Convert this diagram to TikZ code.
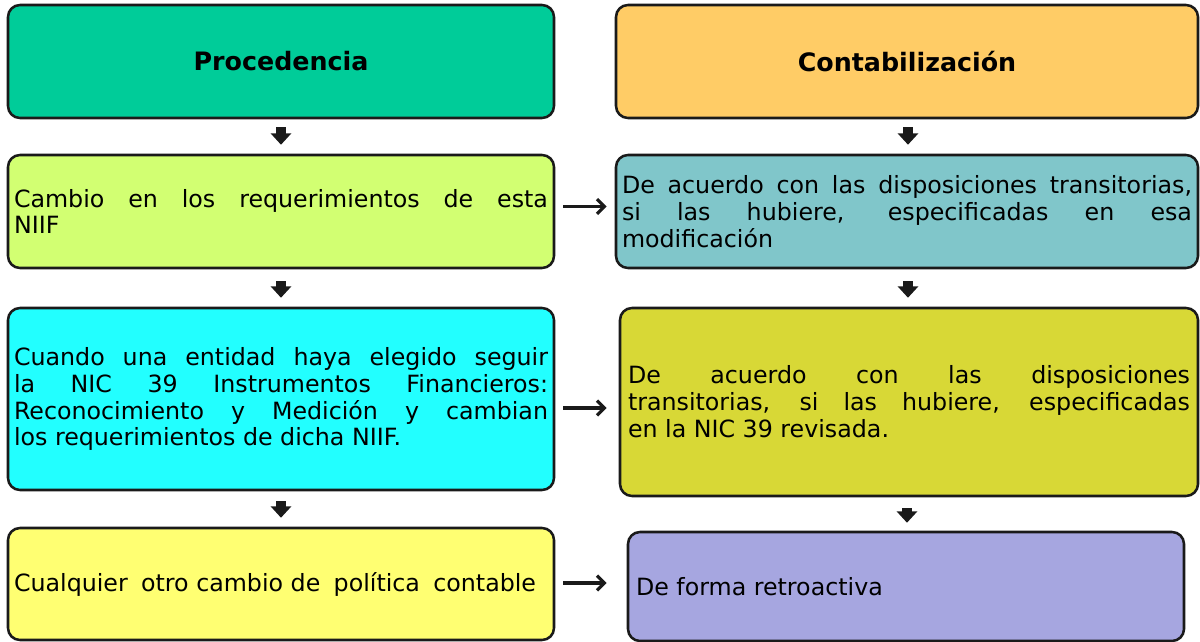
\documentclass[tikz,border=0pt]{standalone}
\usepackage{fontspec}
\setmainfont{DejaVu Sans}
\usetikzlibrary{arrows.meta}
\definecolor{cProc}{HTML}{00CC99}
\definecolor{cCont}{HTML}{FFCC66}
\definecolor{cLtwo}{HTML}{D2FF72}
\definecolor{cRtwo}{HTML}{80C6CA}
\definecolor{cLthree}{HTML}{22FFFF}
\definecolor{cRthree}{HTML}{D8D836}
\definecolor{cLfour}{HTML}{FFFF72}
\definecolor{cRfour}{HTML}{A6A6E0}
\definecolor{cLine}{HTML}{1A1A1A}
\setlength{\parindent}{0pt}
\tolerance=10000
\begin{document}
\begin{tikzpicture}[x=0.75pt,y=-0.75pt,
  box/.style={draw=cLine, line width=1.9pt, rounded corners=9pt, inner xsep=4.5pt, inner ysep=0pt,
    font=\fontsize{17.8pt}{20.2pt}\selectfont, align=justify, text=black},
  headbox/.style={draw=cLine, line width=1.9pt, rounded corners=9pt, inner sep=0pt,
    font=\fontsize{19pt}{23pt}\selectfont\bfseries, align=center, text=black},
  darrow/.style={draw=cLine, fill=cLine, line width=7.5pt, -{Triangle[width=15pt,length=8.5pt]}},
  harrow/.style={draw=cLine, line width=2.5pt, -{Straight Barb[length=5.5pt,width=11pt]}}
]
\useasboundingbox (0,0) rectangle (1200,642);

% headings
\node[headbox, fill=cProc, minimum width=409.5pt, minimum height=84.75pt] (B1) at (281,61.5) {Procedencia};
\node[headbox, fill=cCont, minimum width=436.5pt, minimum height=84.75pt] (B2) at (907,61.5) {Contabilización};

% row 2
\node[box, fill=cLtwo, minimum width=409.5pt, minimum height=84.75pt, text width=400.5pt] (L2) at (281,211.5)
  {Cambio en los requerimientos de esta\linebreak NIIF};
\node[box, fill=cRtwo, minimum width=436.5pt, minimum height=84.75pt, text width=427.5pt] (R2) at (907,211.5)
  {De acuerdo con las disposiciones transitorias,\linebreak si las hubiere, especificadas en esa\linebreak modificación};

% row 3
\node[box, fill=cLthree, minimum width=409.5pt, minimum height=136.5pt, text width=400.5pt] (L3) at (281,399)
  {Cuando una entidad haya elegido seguir\linebreak la NIC 39 Instrumentos Financieros:\linebreak Reconocimiento y Medición y cambian\linebreak los requerimientos de dicha NIIF.};
\node[box, fill=cRthree, minimum width=433.5pt, minimum height=141pt, inner xsep=6pt, text width=421.5pt] (R3) at (909,402)
  {De acuerdo con las disposiciones\linebreak transitorias, si las hubiere, especificadas\linebreak en la NIC 39 revisada.};

% row 4
\node[box, fill=cLfour, minimum width=409.5pt, minimum height=84pt, text width=400.5pt] (L4) at (281,584)
  {\hbox to 391.5pt{Cualquier\hfill\ otro cambio de\hfill\ política\hfill\ contable}};
\node[box, fill=cRfour, minimum width=417pt, minimum height=81.75pt, inner xsep=6pt, text width=405pt] (R4) at (906,586.5)
  {De forma retroactiva};

% vertical arrows
\draw[darrow] ([shift={(0,8)}]B1.south) -- ([shift={(0,-9)}]L2.north);
\draw[darrow] ([shift={(0,12)}]L2.south) -- ([shift={(0,-9)}]L3.north);
\draw[darrow] ([shift={(0,10)}]L3.south) -- ([shift={(0,-9)}]L4.north);
\draw[darrow] ([shift={(1,8)}]B2.south) -- ([shift={(1,-9)}]R2.north);
\draw[darrow] ([shift={(1,12)}]R2.south) -- ([shift={(-1,-9)}]R3.north);
\draw[darrow] ([shift={(-2,11)}]R3.south) -- ([shift={(1,-8)}]R4.north);

% horizontal arrows
\draw[harrow] ([shift={(8,-5)}]L2.east) -- ([shift={(-8,-5)}]R2.west);
\draw[harrow] ([shift={(8,9)}]L3.east) -- ([shift={(-12,6)}]R3.west);
\draw[harrow] ([shift={(8,-1)}]L4.east) -- ([shift={(-20,-3.5)}]R4.west);
\end{tikzpicture}
\end{document}
